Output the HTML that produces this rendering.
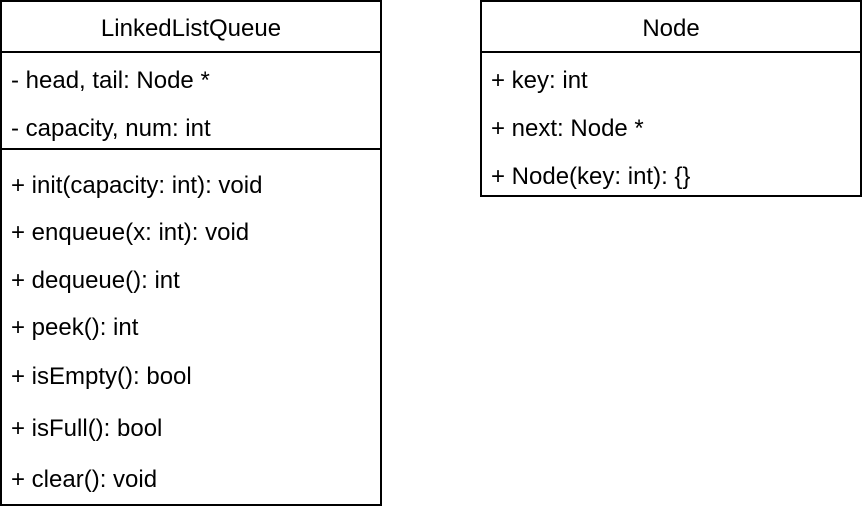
<!DOCTYPE html>
<html><head><meta charset="utf-8"><style>
body{margin:0;width:862px;height:512px;background:#fff;position:relative;overflow:hidden;font-family:"Liberation Sans",Arial,sans-serif;font-size:24px;color:#000}
.b{position:absolute;border:2px solid #000;box-sizing:border-box}
.l{position:absolute;height:2px;background:#000}
.t{position:absolute;line-height:24px;height:24px;white-space:nowrap;font-size:24px}
</style></head><body>
<div class="b" style="left:0;top:0;width:382px;height:506px"></div>
<div class="l" style="left:0;top:51px;width:382px"></div>
<div class="l" style="left:0;top:148px;width:382px"></div>
<div class="t" style="left:0;width:382px;text-align:center;top:17px">LinkedListQueue</div>
<div class="t" style="left:11px;top:69px">- head, tail: Node *</div>
<div class="t" style="left:11px;top:117px">- capacity, num: int</div>
<div class="t" style="left:11px;top:174px">+ init(capacity: int): void</div>
<div class="t" style="left:11px;top:221px">+ enqueue(x: int): void</div>
<div class="t" style="left:11px;top:269px">+ dequeue(): int</div>
<div class="t" style="left:11px;top:316px">+ peek(): int</div>
<div class="t" style="left:11px;top:365px">+ isEmpty(): bool</div>
<div class="t" style="left:11px;top:417px">+ isFull(): bool</div>
<div class="t" style="left:11px;top:468px">+ clear(): void</div>

<div class="b" style="left:480px;top:0;width:382px;height:197px"></div>
<div class="l" style="left:480px;top:51px;width:382px"></div>
<div class="t" style="left:480px;width:382px;text-align:center;top:17px">Node</div>
<div class="t" style="left:491px;top:69px">+ key: int</div>
<div class="t" style="left:491px;top:117px">+ next: Node *</div>
<div class="t" style="left:491px;top:165px">+ Node(key: int): {}</div>
</body></html>
